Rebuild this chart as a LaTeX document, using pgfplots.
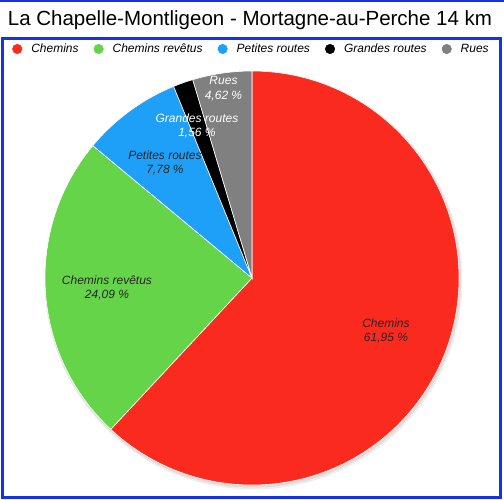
\documentclass[border=0pt]{standalone}
\usepackage{pgfplots}
\pgfplotsset{compat=1.18}
\usepackage{fontspec}
\setmainfont{Liberation Sans}

\definecolor{cRed}{RGB}{251,42,30}
\definecolor{cGreen}{RGB}{102,212,72}
\definecolor{cBlue}{RGB}{30,160,248}
\definecolor{cBlack}{RGB}{0,0,0}
\definecolor{cGray}{RGB}{128,128,128}
\definecolor{frameBlue}{RGB}{20,50,230}

% shares in percent, clockwise from 12 o'clock
\def\vA{61.95} % Chemins
\def\vB{24.09} % Chemins revêtus
\def\vC{7.78}  % Petites routes
\def\vD{1.56}  % Grandes routes
\def\vE{4.62}  % Rues

\pgfmathsetmacro\aA{90}
\pgfmathsetmacro\aB{\aA-3.6*\vA}
\pgfmathsetmacro\aC{\aB-3.6*\vB}
\pgfmathsetmacro\aD{\aC-3.6*\vC}
\pgfmathsetmacro\aE{\aD-3.6*\vD}
\pgfmathsetmacro\aF{\aE-3.6*\vE}

\def\cx{252}\def\cy{222}\def\R{207bp}
\newcommand\slice[3]{%
  \fill[#3, draw=white, line width=0.6bp] (axis cs:\cx,\cy) -- ++(#1:\R)
    arc[start angle=#1, end angle=#2, radius=\R] -- cycle;}

\begin{document}
\begin{tikzpicture}
\useasboundingbox (0,0) rectangle (504bp,500bp);
\begin{axis}[
    at={(0,0)}, anchor=origin,
    x=1bp, y=1bp,
    xmin=0, xmax=504, ymin=0, ymax=500,
    hide axis, clip=false,
    legend columns=5,
    legend image code/.code={\fill[#1] (0bp,0bp) circle[radius=4.8bp];},
    legend style={at={(axis cs:250.5,451)}, anchor=center, draw=none, fill=none,
      font=\itshape\fontsize{12bp}{14bp}\selectfont,
      nodes={inner sep=0pt},
      /tikz/every odd column/.append style={column sep=9bp},
      /tikz/every even column/.append style={column sep=15bp}},
]
% soft shadow
\fill[black, opacity=0.07] (axis cs:253.5,219.5) circle[radius=209bp];
\fill[black, opacity=0.07] (axis cs:253,220.5) circle[radius=208bp];
\slice{\aA}{\aB}{cRed}
\slice{\aB}{\aC}{cGreen}
\slice{\aC}{\aD}{cBlue}
\slice{\aD}{\aE}{cBlack}
\slice{\aE}{\aF}{cGray}

\addlegendimage{cRed}\addlegendentry{Chemins}
\addlegendimage{cGreen}\addlegendentry{Chemins revêtus}
\addlegendimage{cBlue}\addlegendentry{Petites routes}
\addlegendimage{cBlack}\addlegendentry{Grandes routes}
\addlegendimage{cGray}\addlegendentry{Rues}

\begin{scope}[every node/.style={font=\itshape\fontsize{12bp}{14.5bp}\selectfont, align=center}]
\node[black!85] at (axis cs:386,169) {Chemins\\61,95 \%};
\node[black!85] at (axis cs:107,212) {Chemins revêtus\\24,09 \%};
\node[black!85] at (axis cs:165,337) {Petites routes\\7,78 \%};
\node[white] at (axis cs:197,374) {Grandes routes\\1,56 \%};
\node[white] at (axis cs:223.5,411.5) {Rues\\4,62 \%};
\end{scope}

\node[font=\fontsize{20.5bp}{24bp}\selectfont] at (axis cs:250,480) {La Chapelle-Montligeon - Mortagne-au-Perche 14 km};

\fill[frameBlue] (axis cs:0,497.8) rectangle (axis cs:504,500);
\draw[frameBlue, line width=2.6bp] (axis cs:2.3,461.2) rectangle (axis cs:500.7,2.6);
\end{axis}
\end{tikzpicture}
\end{document}
